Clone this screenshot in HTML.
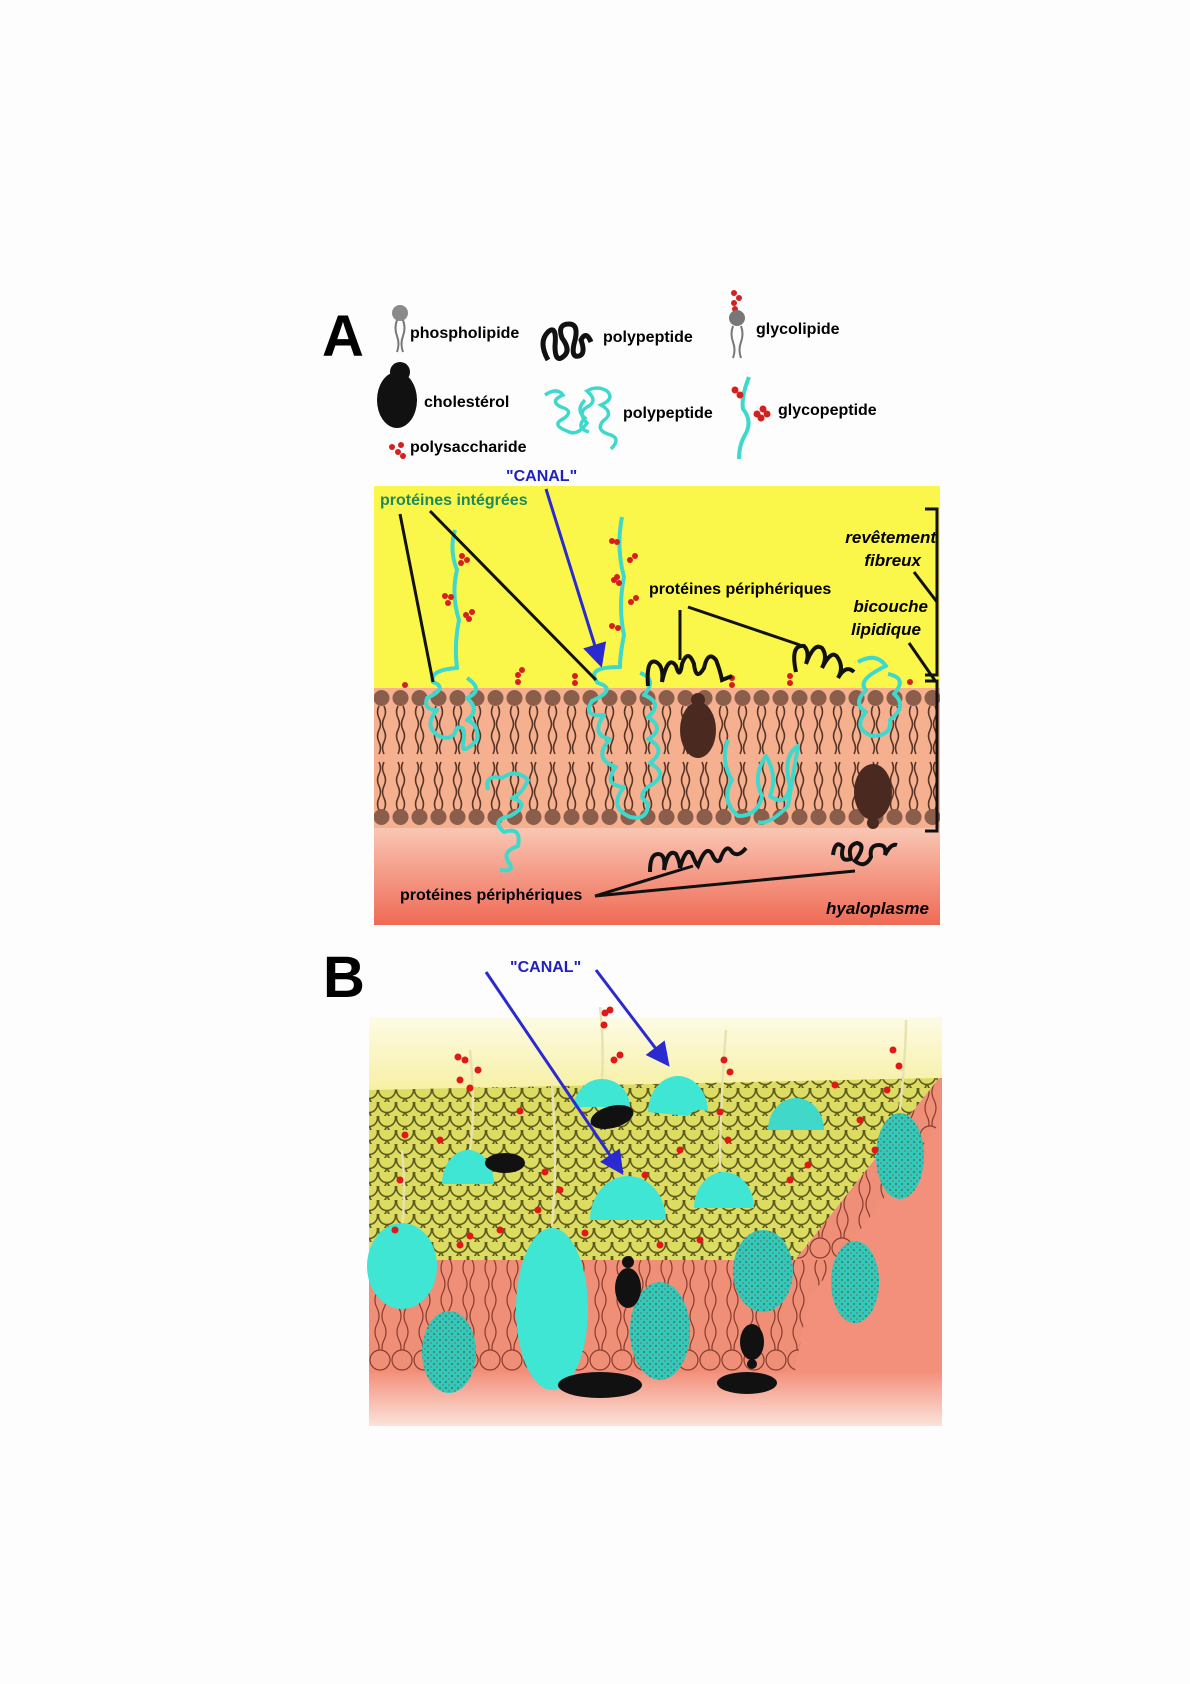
<!DOCTYPE html>
<html><head><meta charset="utf-8"><style>
html,body{margin:0;padding:0;background:#fdfdfd;}
svg{display:block;}
text{font-family:"Liberation Sans",sans-serif;font-weight:bold;}
</style></head><body>
<svg width="1190" height="1684" viewBox="0 0 1190 1684" xmlns="http://www.w3.org/2000/svg">
<defs>
<linearGradient id="cyto" x1="0" y1="0" x2="0" y2="1">
<stop offset="0" stop-color="#f9c7b4"/><stop offset="1" stop-color="#ef6a55"/></linearGradient>
<linearGradient id="byel" x1="0" y1="0" x2="0" y2="1">
<stop offset="0" stop-color="#fdfbe6"/><stop offset="1" stop-color="#f6ef9e"/></linearGradient>
<linearGradient id="bpink" x1="0" y1="0" x2="0" y2="1">
<stop offset="0" stop-color="#f3907c"/><stop offset="1" stop-color="#fbe3da"/></linearGradient>
<pattern id="lipA" x="372" y="688" width="19" height="140" patternUnits="userSpaceOnUse">
<circle cx="9.5" cy="10" r="8" fill="#8b5e4c"/>
<path d="M7 18 q-3 6 0 12 t0 12 t0 12 t0 12 M12 18 q3 6 0 12 t0 12 t0 12 t0 12" stroke="#5a3526" stroke-width="1.6" fill="none"/>
<path d="M7 122 q-3 -6 0 -12 t0 -12 t0 -12 t0 -12 M12 122 q3 -6 0 -12 t0 -12 t0 -12 t0 -12" stroke="#5a3526" stroke-width="1.6" fill="none"/>
<circle cx="9.5" cy="129" r="8" fill="#8b5e4c"/>
</pattern>
<pattern id="scales" x="369" y="1088" width="18" height="14" patternUnits="userSpaceOnUse">
<rect width="18" height="14" fill="#c9c84a"/>
<circle cx="9" cy="9" r="8.5" fill="#dcdc62" stroke="#5d5a1e" stroke-width="1.6"/>
<circle cx="0" cy="2" r="8.5" fill="#dcdc62" stroke="#5d5a1e" stroke-width="1.6"/>
<circle cx="18" cy="2" r="8.5" fill="#dcdc62" stroke="#5d5a1e" stroke-width="1.6"/>
</pattern>
<pattern id="lipB" x="369" y="1260" width="22" height="112" patternUnits="userSpaceOnUse">
<rect width="22" height="112" fill="#ef8f78"/>
<path d="M8 0 q-4 8 0 16 t0 16 t0 16 t0 16 t0 16 t0 16 M15 0 q4 8 0 16 t0 16 t0 16 t0 16 t0 16 t0 16" stroke="#8a3a2c" stroke-width="1.2" fill="none"/>
<circle cx="11" cy="100" r="10" fill="#ef8f78" stroke="#8a3a2c" stroke-width="1.2"/>
</pattern>
<pattern id="dots" width="6" height="6" patternUnits="userSpaceOnUse">
<rect width="6" height="6" fill="#33c9b8"/><circle cx="2" cy="2" r="1" fill="#2a7f78"/><circle cx="5" cy="5" r="0.8" fill="#a05a50"/>
</pattern>
<marker id="ah" markerWidth="8" markerHeight="8" refX="6" refY="4" orient="auto" markerUnits="strokeWidth"><path d="M0 0 L8 4 L0 8 z" fill="#2a2ad0"/></marker>
</defs>

<!-- Legend A -->
<text x="322" y="356" font-size="58">A</text>
<circle cx="400" cy="313" r="8" fill="#8a8a8a"/>
<path d="M397 320 q-3 8 0 16 t0 16 M403 320 q3 8 0 16 t0 16" stroke="#777" stroke-width="2" fill="none"/>
<text x="410" y="338" font-size="16">phospholipide</text>
<circle cx="400" cy="372" r="10" fill="#111"/>
<ellipse cx="397" cy="400" rx="20" ry="28" fill="#111"/>
<text x="424" y="407" font-size="16">cholestérol</text>
<g fill="#d42020"><circle cx="392" cy="447" r="3"/><circle cx="398" cy="452" r="3"/><circle cx="401" cy="445" r="3"/><circle cx="403" cy="456" r="3"/></g>
<text x="410" y="452" font-size="16">polysaccharide</text>
<path d="M548 360 q-10 -18 0 -28 q9 -8 7 14 q0 18 9 10 q7 -6 -2 -18 q-5 -14 7 -14 q11 0 5 20 q-3 14 5 12 q7 -2 2 -16 q5 -10 10 2" stroke="#111" stroke-width="5" fill="none"/>
<text x="603" y="342" font-size="16">polypeptide</text>
<path d="M545 395 q12 -8 18 0 q-14 6 -2 12 q14 4 2 12 q-12 6 4 12 q10 6 20 -8 q-10 -10 0 -16 q12 -6 0 -16 q10 -6 20 0 q8 8 -6 14 q14 8 2 16 q-8 10 8 14 q10 4 0 14 M585 400 q-10 10 0 18 q-10 10 4 14" stroke="#3fd8cc" stroke-width="3.5" fill="none"/>
<text x="623" y="418" font-size="16">polypeptide</text>
<g fill="#d42020"><circle cx="734" cy="293" r="3"/><circle cx="739" cy="298" r="3"/><circle cx="734" cy="303" r="3"/><circle cx="735" cy="309" r="3"/></g>
<circle cx="737" cy="318" r="8" fill="#777"/>
<path d="M733 326 q-3 8 0 16 t0 16 M741 326 q3 8 0 16 t0 16" stroke="#777" stroke-width="2" fill="none"/>
<text x="756" y="334" font-size="16">glycolipide</text>
<path d="M749 377 q-8 20 -6 32 q10 12 2 26 q-6 10 -6 24" stroke="#3fd8cc" stroke-width="4" fill="none"/>
<g fill="#d42020"><circle cx="735" cy="390" r="3.5"/><circle cx="740" cy="395" r="3.5"/><circle cx="757" cy="414" r="3.5"/><circle cx="763" cy="409" r="3.5"/><circle cx="767" cy="414" r="3.5"/><circle cx="761" cy="418" r="3.5"/></g>
<text x="778" y="415" font-size="16">glycopeptide</text>

<!-- Panel A -->
<rect x="374" y="486" width="566" height="202" fill="#fbf64a"/>
<rect x="374" y="688" width="566" height="140" fill="#f5b08f"/>
<rect x="374" y="688" width="566" height="140" fill="url(#lipA)"/>
<rect x="374" y="828" width="566" height="97" fill="url(#cyto)"/>
<circle cx="698" cy="700" r="7" fill="#4a2a20"/><ellipse cx="698" cy="730" rx="18" ry="28" fill="#4a2a20"/>
<ellipse cx="873" cy="792" rx="19" ry="28" fill="#4a2a20"/><circle cx="873" cy="823" r="6" fill="#4a2a20"/>
<g stroke="#3fd8cc" stroke-width="4" fill="none" stroke-linejoin="round">
<path d="M455 530 q-6 20 2 40 q-6 25 2 50 q-5 25 -2 48 q-28 2 -24 14 q16 6 -6 16 q-4 12 10 12 q-14 16 2 26 q14 6 18 -8 q10 -4 6 16 q-2 12 14 -4 q2 -16 -10 -20 q14 -10 0 -22 q18 -8 0 -20"/>
<path d="M622 517 q-6 30 2 60 q-6 30 0 58 q-4 20 -4 32 q-36 0 -22 16 q20 6 -6 18 q-10 16 12 14 q-14 20 6 24 q-18 20 6 28 q-14 18 8 20 q-16 20 6 30 q18 4 18 -14 q-14 -8 6 -20 q14 -10 -4 -20 q18 -14 -2 -24 q18 -10 0 -22 q16 -14 -4 -22 q14 -16 -4 -22"/>
<path d="M488 790 q-4 -16 14 -12 q14 -10 26 2 q-6 14 -16 18 q20 6 -2 18 q-20 4 -6 16 q18 -6 14 14 q-18 6 -8 18 q4 8 -10 6"/>
<path d="M728 740 q-8 20 4 40 q-12 20 6 36 q20 0 24 -20 q-10 -20 4 -40 q12 20 4 40 q16 12 20 -10 q-8 -30 8 -40 q-10 60 -10 60 q-20 20 -30 16"/>
<path d="M858 662 q18 -10 28 4 q-30 14 -20 24 q-14 14 0 22 q-14 16 6 24 q20 0 18 -16 q18 -14 4 -26 q14 -16 -6 -20"/>
</g>
<g fill="#d42020">
<circle cx="462" cy="556" r="3"/><circle cx="467" cy="560" r="3"/><circle cx="461" cy="563" r="3"/>
<circle cx="445" cy="596" r="3"/><circle cx="451" cy="597" r="3"/><circle cx="448" cy="603" r="3"/>
<circle cx="466" cy="615" r="3"/><circle cx="472" cy="612" r="3"/><circle cx="469" cy="619" r="3"/>
<circle cx="612" cy="541" r="3"/><circle cx="617" cy="542" r="3"/>
<circle cx="630" cy="560" r="3"/><circle cx="635" cy="556" r="3"/>
<circle cx="614" cy="580" r="3"/><circle cx="619" cy="583" r="3"/><circle cx="617" cy="577" r="3"/>
<circle cx="631" cy="602" r="3"/><circle cx="636" cy="598" r="3"/>
<circle cx="612" cy="626" r="3"/><circle cx="618" cy="628" r="3"/>
<circle cx="518" cy="675" r="3"/><circle cx="518" cy="682" r="3"/><circle cx="522" cy="670" r="3"/>
<circle cx="575" cy="676" r="3"/><circle cx="575" cy="683" r="3"/>
<circle cx="732" cy="678" r="3"/><circle cx="732" cy="685" r="3"/>
<circle cx="790" cy="676" r="3"/><circle cx="790" cy="683" r="3"/>
<circle cx="405" cy="685" r="3"/><circle cx="910" cy="682" r="3"/>
</g>
<g stroke="#111" stroke-width="4" fill="none">
<path d="M648 686 q-2 -28 8 -24 q8 4 6 20 q6 -28 14 -16 q4 14 6 -2 q6 -16 12 0 q2 18 10 4 q4 -18 12 -8 q4 10 6 20 l10 -4"/>
<path d="M796 672 q-6 -28 8 -26 q6 6 2 18 q8 -22 16 -16 q6 8 0 20 q10 -20 16 -10 q6 10 0 20 q8 -14 16 -6"/>
<path d="M650 872 q0 -18 8 -18 q8 0 6 16 q4 -22 12 -16 q4 8 4 14 q6 -22 12 -14 q4 10 6 12 q8 -22 14 -12 q4 10 8 6 q6 -18 12 -8 q6 6 14 -4"/>
<path d="M833 855 q2 -16 10 -8 q-4 16 8 12 q-4 -14 6 -16 q10 2 -2 18 q10 8 16 -4 q-2 -12 8 -12 q8 0 6 10 q6 -12 12 -10"/>
</g>
<g stroke="#111" stroke-width="3" fill="none">
<line x1="400" y1="514" x2="433" y2="682"/>
<line x1="430" y1="511" x2="596" y2="680"/>
<line x1="680" y1="610" x2="680" y2="660"/>
<line x1="688" y1="607" x2="800" y2="645"/>
<line x1="914" y1="572" x2="937" y2="602"/>
<line x1="909" y1="643" x2="936" y2="682"/>
<line x1="595" y1="896" x2="693" y2="866"/>
<line x1="595" y1="896" x2="855" y2="871"/>
<path d="M925 509 h12 v166 h-12 M925 681 h12 v150 h-12"/>
</g>
<line x1="546" y1="489" x2="600" y2="662" stroke="#2a2ad0" stroke-width="3" marker-end="url(#ah)"/>
<text x="506" y="481" font-size="16" fill="#2020c0">"CANAL"</text>
<text x="380" y="505" font-size="16" fill="#1e8a5c">protéines intégrées</text>
<text x="649" y="594" font-size="16">protéines périphériques</text>
<text x="936" y="543" font-size="17" font-style="italic" text-anchor="end">revêtement</text>
<text x="921" y="566" font-size="17" font-style="italic" text-anchor="end">fibreux</text>
<text x="928" y="612" font-size="17" font-style="italic" text-anchor="end">bicouche</text>
<text x="921" y="635" font-size="17" font-style="italic" text-anchor="end">lipidique</text>
<text x="400" y="900" font-size="16">protéines périphériques</text>
<text x="929" y="914" font-size="17" font-style="italic" text-anchor="end">hyaloplasme</text>

<!-- Panel B -->
<text x="323" y="997" font-size="58">B</text>
<text x="510" y="972" font-size="16" fill="#2020c0">"CANAL"</text>
<rect x="369" y="1017" width="573" height="80" fill="url(#byel)"/>
<rect x="369" y="1372" width="573" height="54" fill="url(#bpink)"/>
<polygon points="795,1260 942,1090 942,1372 795,1372" fill="#f3907c"/>
<polygon points="795,1260 939,1078 942,1078 942,1120 808,1300 795,1372" fill="url(#lipB)"/>
<rect x="369" y="1260" width="426" height="112" fill="url(#lipB)"/>
<polygon points="369,1090 939,1078 795,1260 369,1260" fill="url(#scales)"/>
<g stroke="#e8e2b0" stroke-width="2.5" fill="none">
<path d="M402 1230 q4 -40 0 -80"/><path d="M470 1150 q6 -40 0 -100"/><path d="M552 1225 q6 -60 0 -140"/>
<path d="M602 1082 q2 -40 -2 -75"/><path d="M720 1170 q0 -60 6 -140"/><path d="M900 1110 q6 -60 6 -90"/>
</g>
<g fill="#3fe6d4">
<path d="M574 1107 a28 28 0 0 1 56 0 z"/>
<path d="M648 1112 a30 36 0 0 1 60 0 q-10 -6 -20 4 z"/>
<path d="M768 1130 a28 32 0 0 1 56 0 z" fill="#40d8c8"/>
<path d="M442 1184 a26 34 0 0 1 52 0 z"/>
<path d="M590 1220 a38 44 0 0 1 76 0 z"/>
<path d="M694 1208 a30 36 0 0 1 60 0 z"/>
<ellipse cx="402" cy="1266" rx="35" ry="43"/>
<ellipse cx="552" cy="1309" rx="36" ry="81"/>
</g>
<g fill="url(#dots)">
<ellipse cx="449" cy="1352" rx="27" ry="41"/>
<ellipse cx="660" cy="1331" rx="30" ry="49"/>
<ellipse cx="763" cy="1271" rx="30" ry="41"/>
<ellipse cx="855" cy="1282" rx="24" ry="41"/>
<ellipse cx="900" cy="1156" rx="24" ry="43"/>
</g>
<g fill="#111">
<ellipse cx="612" cy="1117" rx="22" ry="11" transform="rotate(-15 612 1117)"/>
<ellipse cx="505" cy="1163" rx="20" ry="10"/>
<circle cx="628" cy="1262" r="6"/><ellipse cx="628" cy="1288" rx="13" ry="20"/>
<ellipse cx="600" cy="1385" rx="42" ry="13"/>
<ellipse cx="752" cy="1342" rx="12" ry="18"/><circle cx="752" cy="1364" r="5"/>
<ellipse cx="747" cy="1383" rx="30" ry="11"/>
</g>
<g fill="#e01818">
<circle cx="458" cy="1057" r="3.5"/><circle cx="465" cy="1060" r="3.5"/><circle cx="478" cy="1070" r="3.5"/><circle cx="460" cy="1080" r="3.5"/><circle cx="470" cy="1088" r="3.5"/>
<circle cx="605" cy="1013" r="3.5"/><circle cx="610" cy="1010" r="3.5"/><circle cx="604" cy="1025" r="3.5"/><circle cx="614" cy="1060" r="3.5"/><circle cx="620" cy="1055" r="3.5"/>
<circle cx="724" cy="1060" r="3.5"/><circle cx="730" cy="1072" r="3.5"/><circle cx="720" cy="1112" r="3.5"/><circle cx="728" cy="1140" r="3.5"/>
<circle cx="893" cy="1050" r="3.5"/><circle cx="899" cy="1066" r="3.5"/><circle cx="887" cy="1090" r="3.5"/>
<circle cx="405" cy="1135" r="3.5"/><circle cx="400" cy="1180" r="3.5"/><circle cx="395" cy="1230" r="3.5"/>
<circle cx="520" cy="1111" r="3.5"/><circle cx="538" cy="1210" r="3.5"/><circle cx="560" cy="1190" r="3.5"/><circle cx="545" cy="1172" r="3.5"/>
<circle cx="460" cy="1245" r="3.5"/><circle cx="470" cy="1236" r="3.5"/><circle cx="500" cy="1230" r="3.5"/>
<circle cx="645" cy="1175" r="3.5"/><circle cx="660" cy="1245" r="3.5"/><circle cx="700" cy="1240" r="3.5"/><circle cx="790" cy="1180" r="3.5"/>
<circle cx="835" cy="1085" r="3.5"/><circle cx="808" cy="1165" r="3.5"/><circle cx="860" cy="1120" r="3.5"/><circle cx="875" cy="1150" r="3.5"/>
<circle cx="585" cy="1233" r="3.5"/><circle cx="440" cy="1140" r="3.5"/><circle cx="680" cy="1150" r="3.5"/>
</g>
<g stroke="#2a2ad0" stroke-width="3" fill="none">
<line x1="486" y1="972" x2="620" y2="1170" marker-end="url(#ah)"/>
<line x1="596" y1="970" x2="666" y2="1062" marker-end="url(#ah)"/>
</g>
</svg>
</body></html>
